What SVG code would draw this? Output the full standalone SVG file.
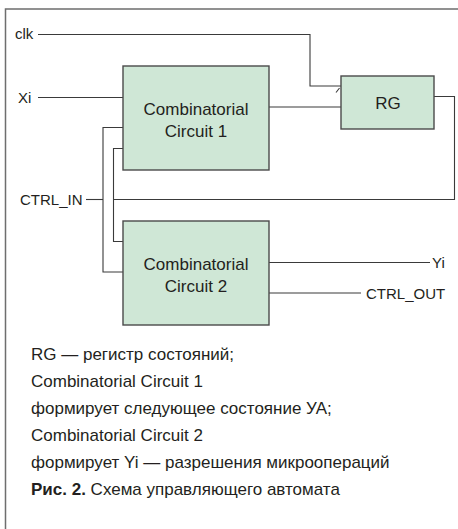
<svg xmlns="http://www.w3.org/2000/svg" width="458" height="529" viewBox="0 0 458 529">
<style>
.frame{fill:none;stroke:#6e6e6e;stroke-width:1.5}
.box{fill:#cfe7d6;stroke:#4a4a4a;stroke-width:1.4}
.wire{fill:none;stroke:#3a3a3a;stroke-width:1.1}
text{font-family:"Liberation Sans",Arial,sans-serif;fill:#231f20}
.lbl{font-size:15px}
.node{font-size:17px;text-anchor:middle}
.cap{font-size:17px}
</style>
<rect width="458" height="529" fill="#ffffff"/>
<path class="frame" d="M5.5,529 V9 H458"/>
<g id="connectors">
<path class="wire" d="M38,34.5 H310 V86 H341"/>
<path class="wire" d="M336,92.5 L339.5,88"/>
<path class="wire" d="M38,97.5 H123"/>
<path class="wire" d="M269,107 H341"/>
<path class="wire" d="M434,96.5 H454.5 V199.5 H113.5"/>
<path class="wire" d="M86,199.5 H103"/>
<path class="wire" d="M123,127.5 H103 V272 H123"/>
<path class="wire" d="M123,148.5 H113.5 V241.5 H123"/>
<path class="wire" d="M269,262.5 H430"/>
<path class="wire" d="M269,293 H361"/>
</g>
<g id="cc1">
<rect class="box" x="123" y="66" width="146" height="104"/>
<text class="node" x="196" y="115">Combinatorial</text>
<text class="node" x="196" y="137">Circuit 1</text>
</g>
<g id="rg">
<rect class="box" x="341" y="76" width="93" height="53"/>
<text class="node" x="388" y="109">RG</text>
</g>
<g id="cc2">
<rect class="box" x="123" y="221" width="146" height="104"/>
<text class="node" x="196" y="270">Combinatorial</text>
<text class="node" x="196" y="292">Circuit 2</text>
</g>
<g id="labels">
<text class="lbl" x="15" y="39">clk</text>
<text class="lbl" x="18" y="102.5">Xi</text>
<text class="lbl" x="20" y="205">CTRL_IN</text>
<text class="lbl" x="432" y="268">Yi</text>
<text class="lbl" x="366" y="299">CTRL_OUT</text>
</g>
<g id="caption">
<text class="cap" x="31" y="360">RG — регистр состояний;</text>
<text class="cap" x="31" y="387">Combinatorial Circuit 1</text>
<text class="cap" x="31" y="414">формирует следующее состояние УА;</text>
<text class="cap" x="31" y="441">Combinatorial Circuit 2</text>
<text class="cap" x="31" y="468">формирует Yi — разрешения микроопераций</text>
<text class="cap" x="31" y="495"><tspan font-weight="bold">Рис. 2.</tspan> Схема управляющего автомата</text>
</g>
</svg>
